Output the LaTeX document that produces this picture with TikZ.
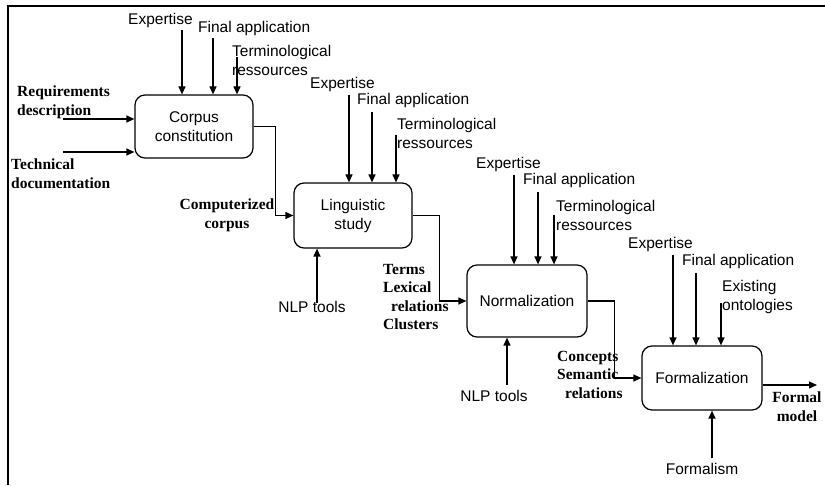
\documentclass[tikz,border=0pt]{standalone}
\usepackage{fontspec}
\setmainfont{Liberation Serif}
\newfontfamily\arialf{Liberation Sans}
\usetikzlibrary{arrows.meta}
\newcommand\sflab{\arialf\fontsize{15.5}{19}\selectfont}
\newcommand\bflab{\bfseries\fontsize{15.5}{18.5}\selectfont}
\begin{document}
\begin{tikzpicture}[x=1pt,y=-1pt,
  proc/.style={draw, line width=1.2pt, rounded corners=10pt, inner sep=0pt, font=\sflab, align=center},
  lab/.style={inner sep=0pt, font=\sflab, align=left},
  blab/.style={inner sep=0pt, font=\bflab, align=left},
  arr/.style={line width=1.2pt, -{Triangle[length=8pt,width=7pt]}},
  frame/.style={line width=1.5pt}]
\useasboundingbox (0,0) rectangle (825,486);
% frame
\draw[frame] (825,6) -- (8,6) -- (8,485);
% boxes
\node[proc, minimum width=118pt, minimum height=63pt] (b1) at (194,126.5) {Corpus\\constitution};
\node[proc, minimum width=118pt, minimum height=65pt] (b2) at (353,215.5) {Linguistic\\study};
\node[proc, minimum width=120pt, minimum height=72pt] (b3) at (527,301) {Normalization};
\node[proc, minimum width=120pt, minimum height=64pt] (b4) at (702,378) {Formalization};
% box 1 controls
\node[lab, anchor=mid west] (ex1) at (128,22) {Expertise};
\node[lab, anchor=mid west] (fa1) at (198,30) {Final application};
\node[lab, anchor=north west] (tr1) at (232,45) {Terminological\\ressources};
\coordinate (ce1) at (182,30);
\coordinate (cf1) at (213,38);
\coordinate (ct1) at (237,57);
\foreach \c in {ce1,cf1,ct1} \draw[arr] (\c) -- (\c |- b1.north);
% box 2 controls
\node[lab, anchor=mid west] (ex2) at (310,86) {Expertise};
\node[lab, anchor=mid west] (fa2) at (357,102) {Final application};
\node[lab, anchor=north west] (tr2) at (397,118) {Terminological\\ressources};
\coordinate (ce2) at (349,95);
\coordinate (cf2) at (372,112);
\coordinate (ct2) at (396,135);
\foreach \c in {ce2,cf2,ct2} \draw[arr] (\c) -- (\c |- b2.north);
% box 3 controls
\node[lab, anchor=mid west] (ex3) at (476,166) {Expertise};
\node[lab, anchor=mid west] (fa3) at (523,182) {Final application};
\node[lab, anchor=north west] (tr3) at (556,200) {Terminological\\ressources};
\coordinate (ce3) at (514,175);
\coordinate (cf3) at (538,192);
\coordinate (ct3) at (554,215);
\foreach \c in {ce3,cf3,ct3} \draw[arr] (\c) -- (\c |- b3.north);
% box 4 controls
\node[lab, anchor=mid west] (ex4) at (628,246) {Expertise};
\node[lab, anchor=mid west] (fa4) at (682,263) {Final application};
\node[lab, anchor=north west] (eo4) at (722,280) {Existing\\ontologies};
\coordinate (ce4) at (673,255);
\coordinate (cf4) at (696,273);
\coordinate (ct4) at (721,303);
\foreach \c in {ce4,cf4,ct4} \draw[arr] (\c) -- (\c |- b4.north);
% inputs
\node[blab, anchor=north west] (req) at (17,86) {Requirements\\description};
\node[blab, anchor=north west] (tech) at (11,159) {Technical\\documentation};
\coordinate (r0) at (63,119);
\coordinate (t0) at (63,152);
\draw[arr] (r0) -- (r0 -| b1.west);
\draw[arr] (t0) -- (t0 -| b1.west);
% flow
\draw[arr] (b1.east) -- ++(22,0) |- (b2.west);
\draw[arr] (b2.east) -- ++(27,0) |- (b3.west);
\draw[arr] (b3.east) -- ++(27,0) |- (b4.west);
\coordinate (fm) at (817,385);
\draw[arr] (b4.east |- fm) -- (fm);
% flow labels
\node[blab, align=center, anchor=north] (cc) at (227,199) {Computerized\\corpus};
\node[blab, anchor=north west] (tl) at (383,264) {Terms\\Lexical\\\hspace*{8pt}relations\\Clusters};
\node[blab, anchor=north west] (cs) at (557,351) {Concepts\\Semantic\\\hspace*{8pt}relations};
\node[blab, align=center, anchor=north] (fml) at (797,392) {Formal\\model};
% mechanisms
\node[lab, anchor=mid] (nlp1) at (312,310) {NLP tools};
\node[lab, anchor=mid] (nlp2) at (494,399) {NLP tools};
\node[lab, anchor=mid] (fmt) at (702,472) {Formalism};
\coordinate (m1) at (317,303);
\coordinate (m2) at (507,385);
\coordinate (m3) at (712,458);
\draw[arr] (m1) -- (m1 |- b2.south);
\draw[arr] (m2) -- (m2 |- b3.south);
\draw[arr] (m3) -- (m3 |- b4.south);
\end{tikzpicture}
\end{document}
